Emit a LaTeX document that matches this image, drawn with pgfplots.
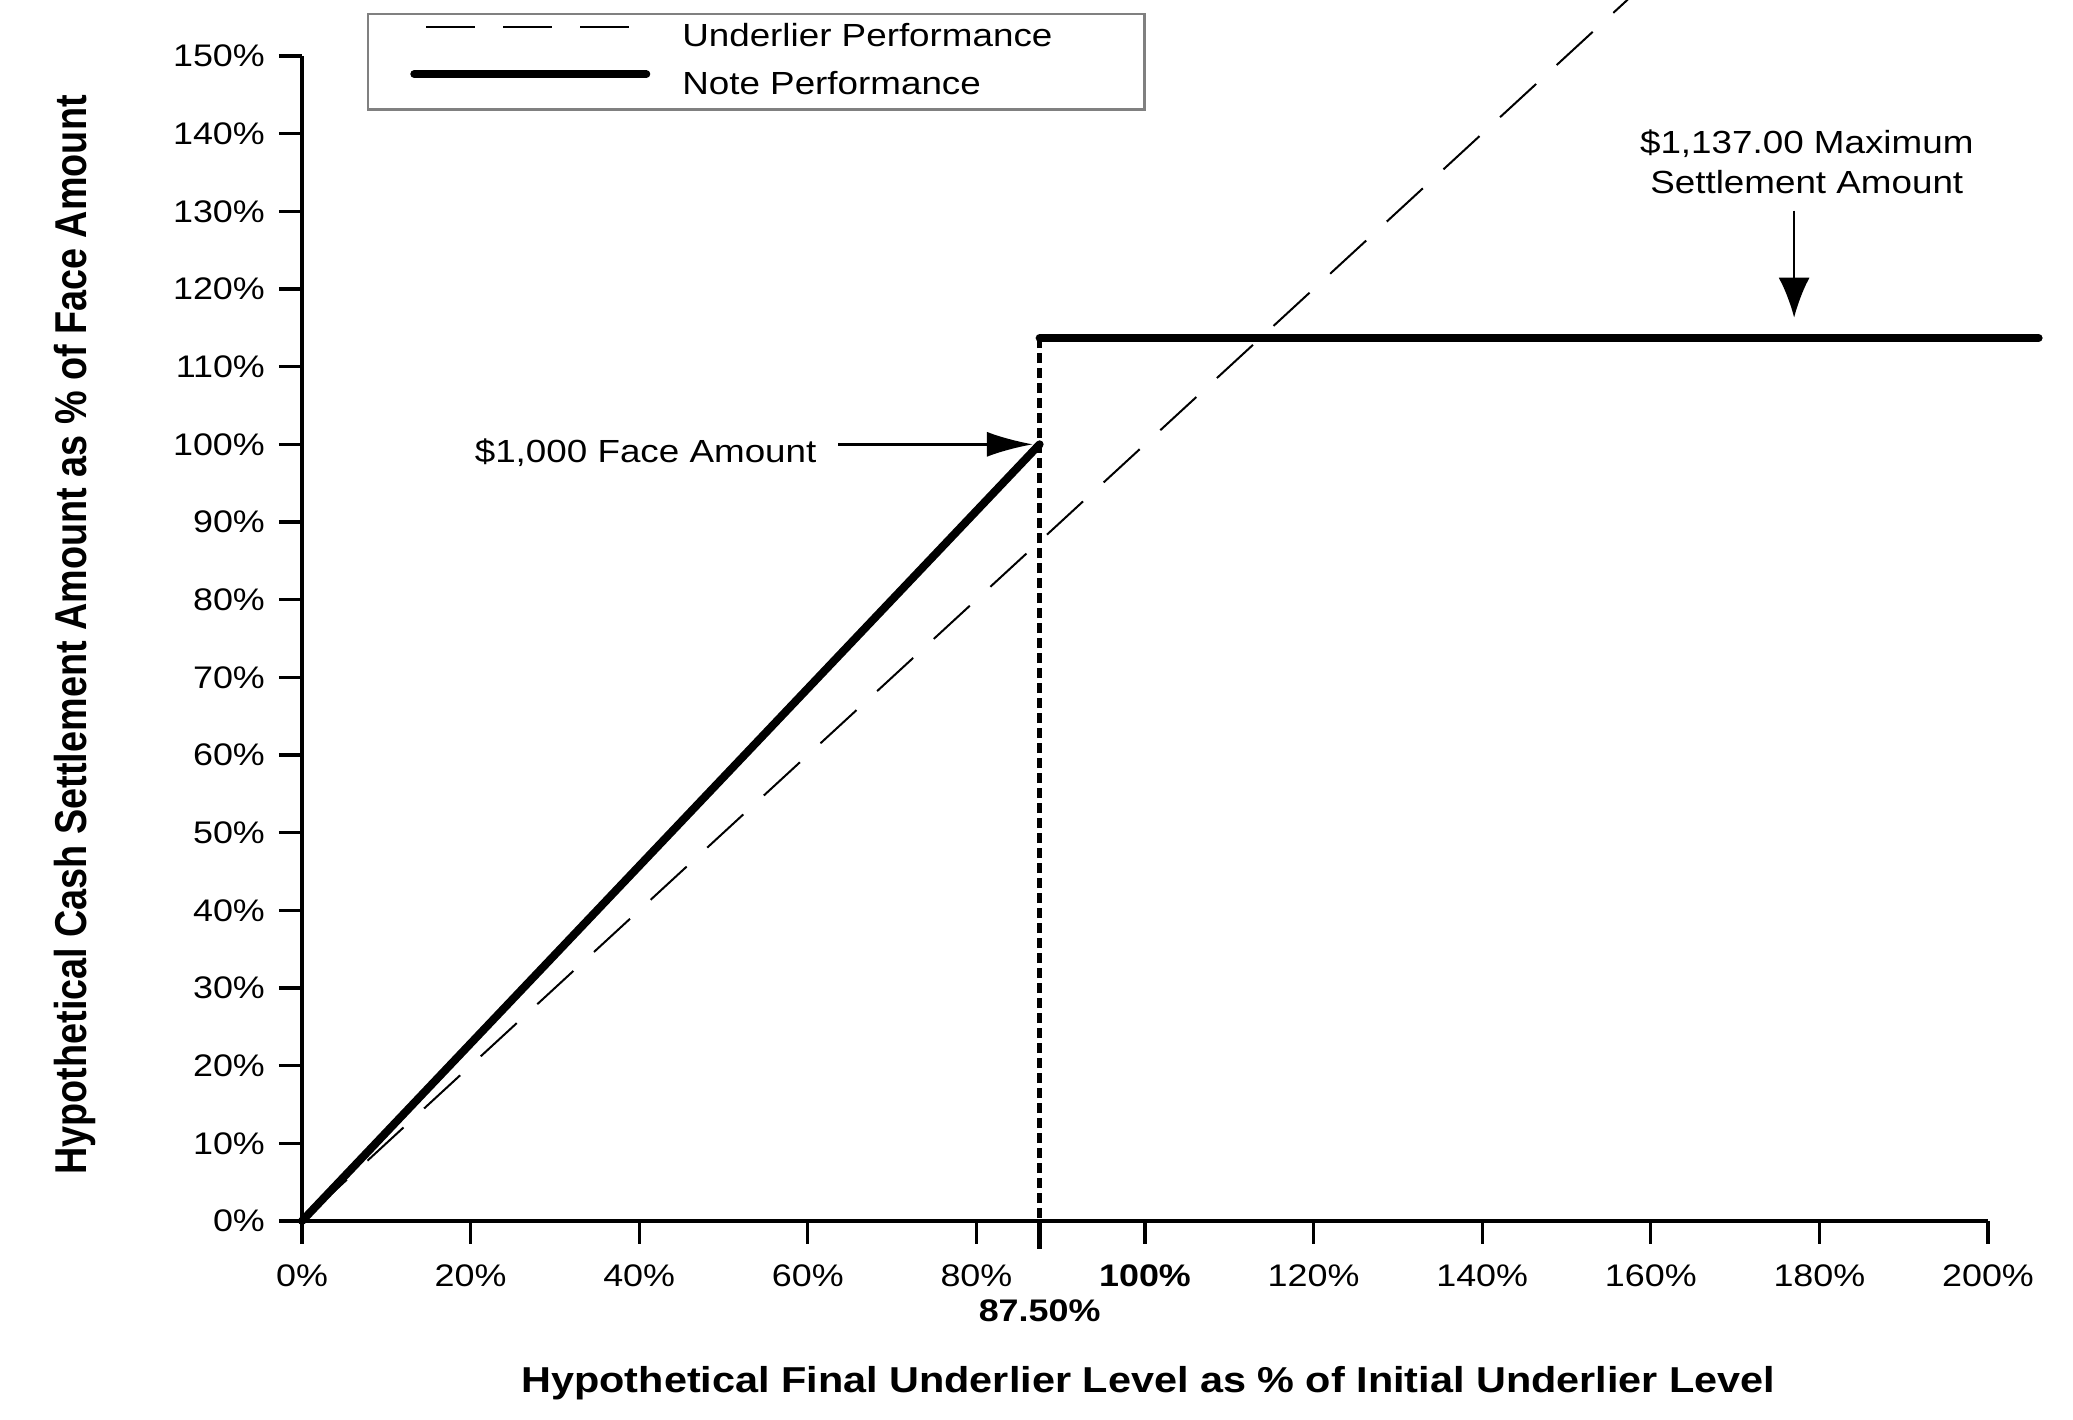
\documentclass[border=0pt]{standalone}
\usepackage{fontspec}
\setmainfont{Liberation Sans}[FakeStretch=1.15]
\newfontfamily\ylabfont{Liberation Sans}
\usepackage{graphicx}
\usepackage{pgfplots}
\pgfplotsset{compat=1.18}
\usetikzlibrary{arrows.meta}
\begin{document}
\begin{tikzpicture}
\begin{axis}[
  scale only axis, width=421.5pt, height=291.25pt,
  xmin=0, xmax=200, ymin=0, ymax=150,
  axis x line=bottom, axis y line=left,
  axis line style={-, line width=0.9pt},
  tick align=outside,
  major tick length=5.75pt,
  tick style={black, line width=0.8pt},
  xtick={0,20,...,200},
  xticklabels={0\%,20\%,40\%,60\%,80\%,\textbf{100\%},120\%,140\%,160\%,180\%,200\%},
  xticklabel style={yshift=-1.7pt},
  ytick={0,10,...,150},
  yticklabels={0\%,10\%,20\%,30\%,40\%,50\%,60\%,70\%,80\%,90\%,100\%,110\%,120\%,130\%,140\%,150\%},
  extra x ticks={87.5},
  extra x tick labels={\textbf{87.50\%}},
  extra x tick style={major tick length=7pt, tick style={line width=1.2pt}, xticklabel style={yshift=-7.5pt}},
  ticklabel style={font=\fontsize{7.8}{9}\selectfont},
  clip=false,
  xlabel={Hypothetical Final Underlier Level as \% of Initial Underlier Level},
  xlabel style={at={(axis description cs:0.502,-0.1476)}, anchor=base, font=\fontsize{9}{10}\selectfont\bfseries},
  ylabel={\ylabfont\bfseries\fontsize{9.45}{10}\selectfont\scalebox{1}[1.18]{Hypothetical Cash Settlement Amount as \% of Face Amount}},
  ylabel style={at={(axis description cs:-0.1276,0.503)}, anchor=base, rotate=0},
  legend style={at={(0.0386,1.0369)}, anchor=north west, draw=gray, line width=0.6pt,
    font=\fontsize{8}{9.6}\selectfont, inner xsep=10.5pt, inner ysep=0.3pt, row sep=0.6pt,
    /tikz/column sep=0pt},
  legend cell align=left,
  legend image code/.code={\draw[#1] (0pt,2.87pt) -- (58pt,2.87pt);},
]
\addplot[black, line width=0.5pt, dash pattern=on 12.25pt off 7pt, dash phase=-3pt] coordinates {(0,0) (158,158)};
\addlegendentry{\makebox[109pt][l]{\hspace*{6pt}Underlier Performance}}
\addplot[black, line width=2pt, line cap=round] coordinates {(0,0) (87.5,100)};
\addlegendentry{\makebox[109pt][l]{\hspace*{6pt}Note Performance}}
\addplot[black, line width=2pt, line cap=round, forget plot] coordinates {(87.5,113.7) (206,113.7)};
\addplot[black, line width=1.3pt, dash pattern=on 2.5pt off 1.25pt, forget plot] coordinates {(87.5,-3.5) (87.5,113.7)};
\node[anchor=base east, font=\fontsize{8}{9.6}\selectfont] at (axis cs:62.7,97.7) {\$1,000 Face Amount};
\draw[line width=0.6pt, -{Latex[length=11.5pt,width=6.25pt]}] (axis cs:63.6,100) -- (axis cs:86.7,100);
\node[anchor=base, font=\fontsize{8}{9.6}\selectfont] at (axis cs:178.5,137.5) {\$1,137.00 Maximum};
\node[anchor=base, font=\fontsize{8}{9.6}\selectfont] at (axis cs:178.5,132.35) {Settlement Amount};
\draw[line width=0.6pt, -{Latex[length=10pt,width=7.75pt]}] (axis cs:177,130.1) -- (axis cs:177,116.3);
\end{axis}
\pgfresetboundingbox
\path[use as bounding box] (-75.5pt,-49.75pt) rectangle (442.75pt,305.25pt);
\end{tikzpicture}
\end{document}
